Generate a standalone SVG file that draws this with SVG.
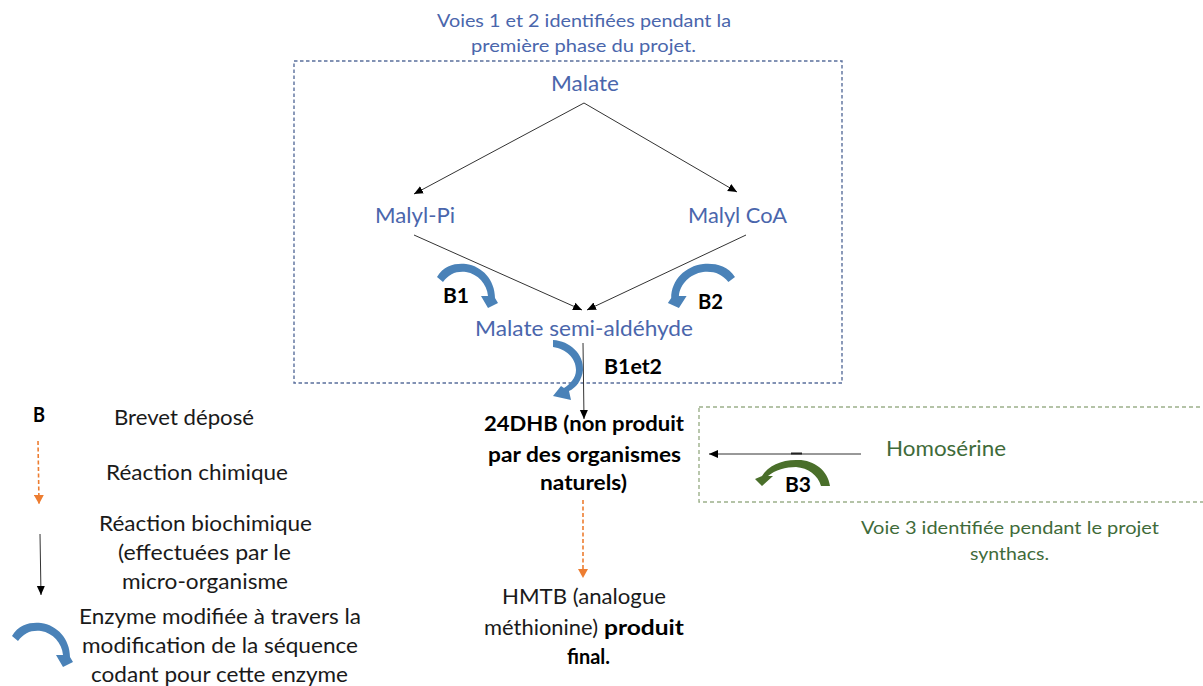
<svg xmlns="http://www.w3.org/2000/svg" xmlns:xlink="http://www.w3.org/1999/xlink" width="1203" height="686" viewBox="0 0 1203 686">
<style>
text{font-family:Lato,"Open Sans","Liberation Sans",sans-serif;font-size:20.5px;fill:#1a1a1a}
.blue{fill:#4a66ac}
.green{fill:#3f6b3a}
.small{font-size:18px}
.b{font-weight:700;fill:#000}
.line{fill:none;stroke:#333;stroke-width:1}
.chem{fill:none;stroke:#ed7d31;stroke-width:1.6;stroke-dasharray:4 2.5}
.curve{fill:#4a82b8}
</style>
<defs>
<marker id="ah" markerUnits="userSpaceOnUse" markerWidth="11" markerHeight="10" refX="9" refY="5" orient="auto"><path d="M0,1L9,5L0,9Z" fill="#000"/></marker>
<marker id="oh" markerUnits="userSpaceOnUse" markerWidth="11" markerHeight="10" refX="9" refY="5" orient="auto"><path d="M0,0L9,5L0,10Z" fill="#ed7d31"/></marker>
<path id="curl" d="M437,277C444,265 456,263 466,264C482,266 495,280 495,298L498,303L488,308L481,296L488,296C487,284 478,274 466,272C456,271 449,274 443,282Z"/>
</defs>
<g id="frames">
<rect x="294" y="61" width="548" height="322" fill="none" stroke="#5a6f9c" stroke-width="1.4" stroke-dasharray="3.5 2.5"/>
<rect x="699" y="407" width="520" height="95" fill="none" stroke="#9cb08a" stroke-width="1.4" stroke-dasharray="4 3"/>
</g>
<g id="connectors">
<path class="line" marker-end="url(#ah)" d="M584,103L414,194"/>
<path class="line" marker-end="url(#ah)" d="M584,103L737,192"/>
<path class="line" marker-end="url(#ah)" d="M414,235L582,310"/>
<path class="line" marker-end="url(#ah)" d="M746,235L587,310"/>
<path class="line" marker-end="url(#ah)" d="M583,343L584,419"/>
<path class="line" marker-end="url(#ah)" d="M861,454L709,454"/>
<path d="M791,453.500L802,453.500" fill="none" stroke="#222" stroke-width="2"/>
<path class="chem" marker-end="url(#oh)" d="M583,500L583,578"/>
<path class="chem" marker-end="url(#oh)" d="M38,441L39,504"/>
<path class="line" marker-end="url(#ah)" d="M40,534L41,595"/>
</g>
<g id="enzymes">
<use xlink:href="#curl" href="#curl" class="curve"/>
<use xlink:href="#curl" href="#curl" class="curve" transform="matrix(-1.1 0 0 1 1215.700 0)"/>
<path class="curve" d="M553,340C570,341 584,354 583,370C582,380 576,388 569,391L571,400L553,396L561,386L564,388C570,384 576,378 576,370C576,358 566,349 553,347Z"/>
<path d="M830,486L821,486C818,475 808,468 796,467C786,467 775,470 768,476L773,476L762,486L755,479L762,476C768,466 781,460 796,460C813,459 828,470 830,486Z" fill="#4a6f2a"/>
<use xlink:href="#curl" href="#curl" class="curve" transform="translate(-425,359)"/>
</g>
<g id="note-top">
<text class="blue small" x="437" y="27" textLength="294" lengthAdjust="spacingAndGlyphs">Voies 1 et 2 identifiées pendant la</text>
<text class="blue small" x="471" y="52" textLength="225" lengthAdjust="spacingAndGlyphs">première phase du projet.</text>
</g>
<g id="malate"><text class="blue" x="551" y="91" textLength="68" lengthAdjust="spacingAndGlyphs">Malate</text></g>
<g id="malyl-pi"><text class="blue" x="375" y="223" textLength="80" lengthAdjust="spacingAndGlyphs">Malyl-Pi</text></g>
<g id="malyl-coa"><text class="blue" x="688" y="223" textLength="99" lengthAdjust="spacingAndGlyphs">Malyl CoA</text></g>
<g id="semi"><text class="blue" x="475" y="336" textLength="218" lengthAdjust="spacingAndGlyphs">Malate semi-aldéhyde</text></g>
<g id="b1"><text class="b" x="443" y="303" textLength="26" lengthAdjust="spacingAndGlyphs">B1</text></g>
<g id="b2"><text class="b" x="698" y="309" textLength="25" lengthAdjust="spacingAndGlyphs">B2</text></g>
<g id="b1et2"><text class="b" x="604" y="374" textLength="58" lengthAdjust="spacingAndGlyphs">B1et2</text></g>
<g id="b3"><text class="b" x="785" y="492" textLength="26" lengthAdjust="spacingAndGlyphs">B3</text></g>
<g id="dhb">
<text class="b" x="484" y="431" textLength="200" lengthAdjust="spacingAndGlyphs">24DHB (non produit</text>
<text class="b" x="488" y="462" textLength="193" lengthAdjust="spacingAndGlyphs">par des organismes</text>
<text class="b" x="540" y="490" textLength="87" lengthAdjust="spacingAndGlyphs">naturels)</text>
</g>
<g id="hmtb">
<text x="502" y="604" textLength="164" lengthAdjust="spacingAndGlyphs">HMTB (analogue</text>
<text x="484" y="635" textLength="114" lengthAdjust="spacingAndGlyphs">méthionine)</text>
<text class="b" x="604" y="635" textLength="80" lengthAdjust="spacingAndGlyphs">produit</text>
<text class="b" x="567" y="664" textLength="43" lengthAdjust="spacingAndGlyphs">final.</text>
</g>
<g id="homoserine"><text class="green" x="886" y="456" textLength="120" lengthAdjust="spacingAndGlyphs">Homosérine</text></g>
<g id="note-right">
<text class="green small" x="861" y="534" textLength="298" lengthAdjust="spacingAndGlyphs">Voie 3 identifiée pendant le projet</text>
<text class="green small" x="970" y="560" textLength="79" lengthAdjust="spacingAndGlyphs">synthacs.</text>
</g>
<g id="legend">
<text class="b" x="33" y="422" textLength="12" lengthAdjust="spacingAndGlyphs">B</text>
<text x="114" y="425" textLength="140" lengthAdjust="spacingAndGlyphs">Brevet déposé</text>
<text x="106" y="480" textLength="182" lengthAdjust="spacingAndGlyphs">Réaction chimique</text>
<text x="99" y="531" textLength="213" lengthAdjust="spacingAndGlyphs">Réaction biochimique</text>
<text x="118" y="560" textLength="173" lengthAdjust="spacingAndGlyphs">(effectuées par le</text>
<text x="122" y="589" textLength="166" lengthAdjust="spacingAndGlyphs">micro-organisme</text>
<text x="79" y="624" textLength="282" lengthAdjust="spacingAndGlyphs">Enzyme modifiée à travers la</text>
<text x="82" y="653" textLength="276" lengthAdjust="spacingAndGlyphs">modification de la séquence</text>
<text x="91" y="682" textLength="257" lengthAdjust="spacingAndGlyphs">codant pour cette enzyme</text>
</g>
</svg>
